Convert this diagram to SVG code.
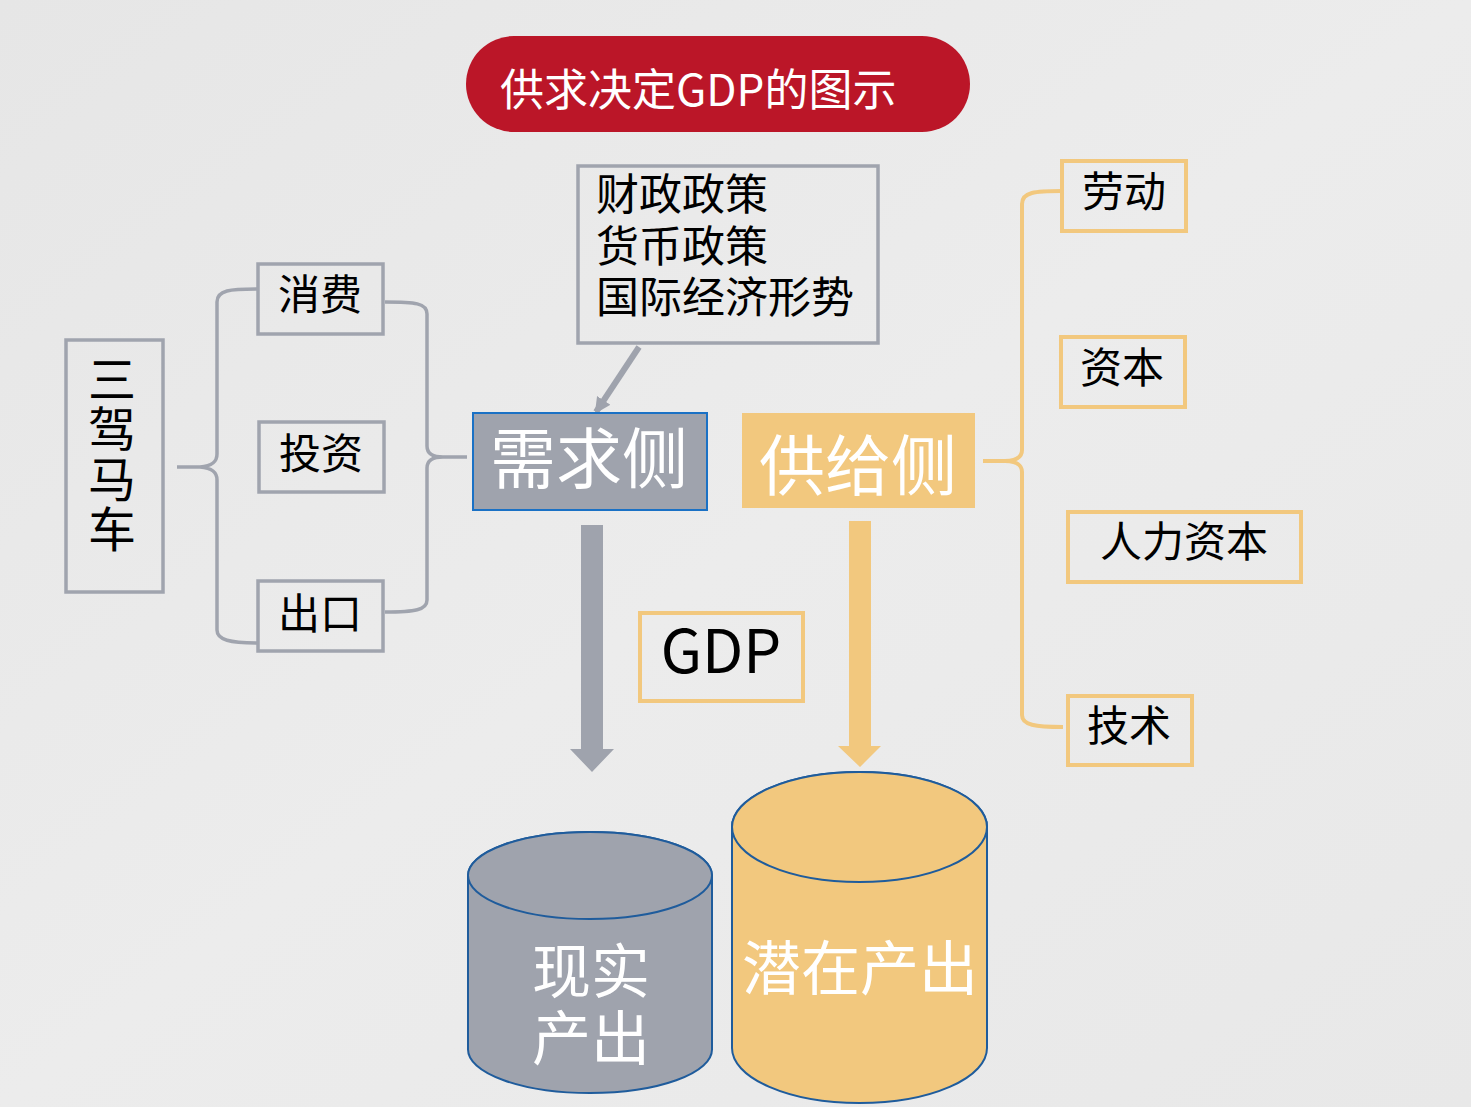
<svg xmlns="http://www.w3.org/2000/svg" width="1471" height="1107" viewBox="0 0 1471 1107">
<defs>
<linearGradient id="bg" x1="0" y1="0" x2="1" y2="1">
<stop offset="0" stop-color="#e6e6e6"/>
<stop offset="0.5" stop-color="#ececec"/>
<stop offset="1" stop-color="#e8e8e8"/>
</linearGradient>
<marker id="ah" markerUnits="userSpaceOnUse" markerWidth="20" markerHeight="20" refX="14" refY="8" orient="auto">
<path d="M0,0 L16,8 L0,16 Z" fill="#9fa3ad"/>
</marker>
<style>
text{font-family:"Noto Sans CJK SC","Noto Sans",sans-serif;}
.box{fill:none;stroke:#a0a4ae;stroke-width:3.5;}
.obox{fill:none;stroke:#f2c87e;stroke-width:4;}
.lbl{font-size:42px;fill:#000;text-anchor:middle;}
.brace-g{fill:none;stroke:#a0a4ae;stroke-width:3.5;}
.brace-o{fill:none;stroke:#f2c87e;stroke-width:4;}
.big{font-size:66px;fill:#fff;text-anchor:middle;}
.cyl{font-size:59px;fill:#fff;text-anchor:middle;}
</style>
</defs>
<rect width="1471" height="1107" fill="url(#bg)"/>

<g id="title">
<rect x="466" y="36" width="504" height="96" rx="48" fill="#bb1628"/>
<text x="500" y="106" font-size="44" fill="#fff">供求决定GDP的图示</text>
</g>

<g id="connectors">
<path class="brace-g" d="M258,289 C230,289 217,290 217,302 L217,454 C217,462 212,466 200,467 L177,467 M200,467 C212,468 217,472 217,480 L217,630 C217,640 230,643 258,643"/>
<path class="brace-g" d="M385,302 C415,302 427,303 427,314 L427,446 C427,453 432,457 443,457 L467,457 M443,457 C432,457 427,461 427,468 L427,600 C427,610 415,612 385,612"/>
<path class="brace-o" d="M1062,191 C1035,191 1022,192 1022,204 L1022,450 C1022,457 1016,461 1005,461 L983,461 M1005,461 C1016,461 1022,465 1022,472 L1022,715 C1022,725 1035,727 1063,727"/>
<line x1="639" y1="347" x2="596" y2="412" stroke="#9fa3ad" stroke-width="6" marker-end="url(#ah)"/>
<path d="M581,525 L603,525 L603,749 L614,749 L592,772 L570,749 L581,749 Z" fill="#9fa3ad"/>
<path d="M849,521 L871,521 L871,746 L881,746 L860,767 L838,746 L849,746 Z" fill="#f2c87e"/>
</g>

<g id="sanjiamache">
<rect class="box" x="66" y="340" width="97" height="252"/>
<text x="112" y="355" font-size="48" fill="#000" style="writing-mode:vertical-rl;text-orientation:upright;letter-spacing:2px">三驾马车</text>
</g>

<g id="xiaofei">
<rect class="box" x="258" y="264" width="125" height="70"/>
<text class="lbl" x="320" y="310">消费</text>
</g>
<g id="touzi">
<rect class="box" x="259" y="422" width="125" height="70"/>
<text class="lbl" x="321" y="469">投资</text>
</g>
<g id="chukou">
<rect class="box" x="258" y="581" width="125" height="70"/>
<text class="lbl" x="320" y="629">出口</text>
</g>

<g id="policy">
<rect class="box" x="578" y="166" width="300" height="177" stroke-width="4"/>
<text font-size="43" fill="#000"><tspan x="596" y="210">财政政策</tspan><tspan x="596" y="262">货币政策</tspan><tspan x="596" y="313">国际经济形势</tspan></text>
</g>

<g id="demand">
<rect x="473" y="413" width="234" height="97" fill="#9fa3ad" stroke="#1a71c5" stroke-width="2"/>
<text class="big" x="589" y="483">需求侧</text>
</g>

<g id="supply">
<rect x="742" y="413" width="233" height="95" fill="#f2c87e"/>
<text class="big" x="858" y="490">供给侧</text>
</g>

<g id="gdp">
<rect class="obox" x="640" y="613" width="163" height="88" stroke-width="5.5"/>
<text x="721" y="673" font-size="60" font-family="Noto Sans, sans-serif" fill="#000" text-anchor="middle">GDP</text>
</g>

<g id="laodong">
<rect class="obox" x="1062" y="161" width="124" height="70" stroke-width="3.5"/>
<text class="lbl" x="1124" y="207">劳动</text>
</g>
<g id="ziben">
<rect class="obox" x="1061" y="337" width="124" height="70" stroke-width="3.5"/>
<text class="lbl" x="1122" y="383">资本</text>
</g>
<g id="renliziben">
<rect class="obox" x="1068" y="512" width="233" height="70" stroke-width="3.5"/>
<text class="lbl" x="1184" y="557">人力资本</text>
</g>
<g id="jishu">
<rect class="obox" x="1068" y="696" width="124" height="69" stroke-width="3.5"/>
<text class="lbl" x="1129" y="741">技术</text>
</g>

<g id="actual-output">
<path d="M468,875.5 A122,43.5 0 0 1 712,875.5 L712,1049.5 A122,43.5 0 0 1 468,1049.5 Z" fill="#9fa3ad" stroke="#1f5c9c" stroke-width="2"/>
<ellipse cx="590" cy="875.5" rx="122" ry="43.5" fill="#9fa3ad" stroke="#1f5c9c" stroke-width="2"/>
<text class="cyl"><tspan x="591" y="993">现实</tspan><tspan x="591" y="1060">产出</tspan></text>
</g>

<g id="potential-output">
<path d="M732,827 A127.5,55 0 0 1 987,827 L987,1048 A127.5,55 0 0 1 732,1048 Z" fill="#f2c87e" stroke="#1f5c9c" stroke-width="2"/>
<ellipse cx="859.5" cy="827" rx="127.5" ry="55" fill="#f2c87e" stroke="#1f5c9c" stroke-width="2"/>
<text class="cyl" x="860" y="990">潜在产出</text>
</g>
</svg>
